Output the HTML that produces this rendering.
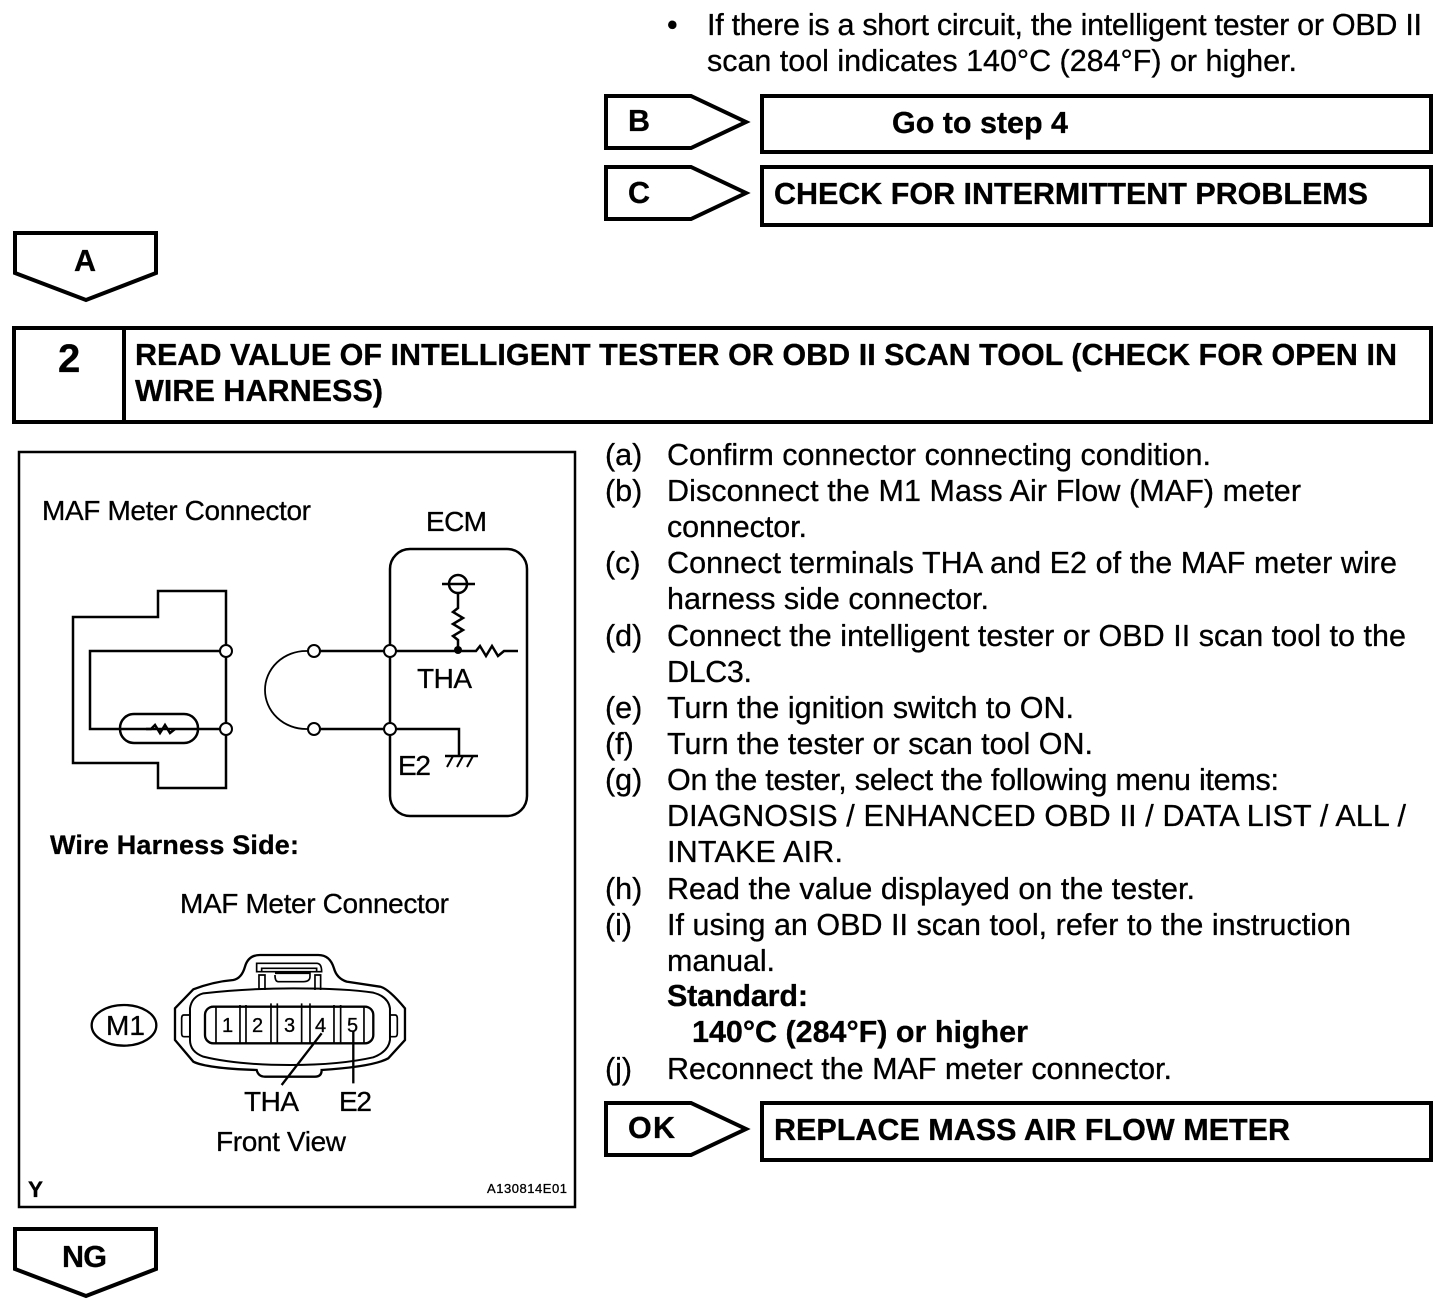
<!DOCTYPE html>
<html><head><meta charset="utf-8"><style>
html,body{margin:0;padding:0;background:#fff}
svg{display:block}
text{font-family:"Liberation Sans",sans-serif;fill:#000;stroke:#000;stroke-width:.3px}
.t{font-size:30.5px}
.b{font-size:30.5px;font-weight:bold}
.d{font-size:28px}
</style></head><body>
<svg width="1456" height="1316" viewBox="0 0 1456 1316" xmlns="http://www.w3.org/2000/svg">
<rect width="1456" height="1316" fill="#fff"/>
<text class="t" x="667" y="35">•</text>
<text class="t" x="707" y="35" textLength="715" lengthAdjust="spacing">If there is a short circuit, the intelligent tester or OBD II</text>
<text class="t" x="707" y="71" textLength="590" lengthAdjust="spacing">scan tool indicates 140°C (284°F) or higher.</text>

<g fill="none" stroke="#000" stroke-width="4">
<polygon points="606,96 691,96 746,122 691,148 606,148"/>
<rect x="762" y="96" width="669" height="56"/>
<polygon points="606,167 691,167 746,193 691,219 606,219"/>
<rect x="762" y="167" width="669" height="58"/>
<polygon points="15,233 156,233 156,273 86,300 15,273"/>
<rect x="14" y="328" width="1417" height="94"/>
<line x1="124" y1="328" x2="124" y2="422"/>
<polygon points="606,1103 691,1103 746,1129 691,1155 606,1155"/>
<rect x="762" y="1103" width="669" height="57"/>
<polygon points="15,1229 156,1229 156,1269 86,1296 15,1269"/>
</g>
<text class="b" x="628" y="131" textLength="22" lengthAdjust="spacingAndGlyphs">B</text>
<text class="b" x="892" y="133" textLength="176" lengthAdjust="spacing">Go to step 4</text>
<text class="b" x="628" y="203" textLength="22" lengthAdjust="spacingAndGlyphs">C</text>
<text class="b" x="774" y="204" textLength="594" lengthAdjust="spacing">CHECK FOR INTERMITTENT PROBLEMS</text>
<text class="b" x="74" y="271">A</text>
<text class="b" x="58" y="372" style="font-size:40px">2</text>
<text class="b" x="135" y="365" textLength="1262" lengthAdjust="spacing">READ VALUE OF INTELLIGENT TESTER OR OBD II SCAN TOOL (CHECK FOR OPEN IN</text>
<text class="b" x="135" y="401" textLength="248" lengthAdjust="spacing">WIRE HARNESS)</text>
<text class="b" x="628" y="1138" textLength="47" lengthAdjust="spacing">OK</text>
<text class="b" x="774" y="1140" textLength="516" lengthAdjust="spacing">REPLACE MASS AIR FLOW METER</text>
<text class="b" x="62" y="1267" textLength="45" lengthAdjust="spacing">NG</text>

<g class="t">
<text x="605" y="465">(a)</text><text x="667" y="465" textLength="544" lengthAdjust="spacing">Confirm connector connecting condition.</text>
<text x="605" y="501">(b)</text><text x="667" y="501" textLength="634" lengthAdjust="spacing">Disconnect the M1 Mass Air Flow (MAF) meter</text>
<text x="667" y="537" textLength="140" lengthAdjust="spacing">connector.</text>
<text x="605" y="573">(c)</text><text x="667" y="573" textLength="730" lengthAdjust="spacing">Connect terminals THA and E2 of the MAF meter wire</text>
<text x="667" y="609" textLength="322" lengthAdjust="spacing">harness side connector.</text>
<text x="605" y="646">(d)</text><text x="667" y="646" textLength="739" lengthAdjust="spacing">Connect the intelligent tester or OBD II scan tool to the</text>
<text x="667" y="682" textLength="85" lengthAdjust="spacing">DLC3.</text>
<text x="605" y="718">(e)</text><text x="667" y="718" textLength="407" lengthAdjust="spacing">Turn the ignition switch to ON.</text>
<text x="605" y="754">(f)</text><text x="667" y="754" textLength="426" lengthAdjust="spacing">Turn the tester or scan tool ON.</text>
<text x="605" y="790">(g)</text><text x="667" y="790" textLength="612" lengthAdjust="spacing">On the tester, select the following menu items:</text>
<text x="667" y="826" textLength="739" lengthAdjust="spacing">DIAGNOSIS / ENHANCED OBD II / DATA LIST / ALL /</text>
<text x="667" y="862" textLength="176" lengthAdjust="spacing">INTAKE AIR.</text>
<text x="605" y="899">(h)</text><text x="667" y="899" textLength="528" lengthAdjust="spacing">Read the value displayed on the tester.</text>
<text x="605" y="935">(i)</text><text x="667" y="935" textLength="684" lengthAdjust="spacing">If using an OBD II scan tool, refer to the instruction</text>
<text x="667" y="971" textLength="108" lengthAdjust="spacing">manual.</text>
<text x="605" y="1079">(j)</text><text x="667" y="1079" textLength="505" lengthAdjust="spacing">Reconnect the MAF meter connector.</text>
</g>
<text class="b" x="667" y="1006" textLength="141" lengthAdjust="spacing">Standard:</text>
<text class="b" x="692" y="1042" textLength="336" lengthAdjust="spacing">140°C (284°F) or higher</text>

<rect x="19" y="452" width="556" height="755" fill="none" stroke="#000" stroke-width="2.5"/>
<text class="d" x="42" y="520" textLength="269" lengthAdjust="spacing">MAF Meter Connector</text>
<text class="d" x="426" y="531" textLength="61" lengthAdjust="spacing">ECM</text>
<g fill="none" stroke="#000" stroke-width="2.5">
<polyline points="226,651 226,591 158,591 158,617 73,617 73,763 158,763 158,788 226,788 226,651"/>
<polyline points="226,651 90,651 90,729 226,729"/>
<rect x="120" y="714" width="78" height="29" rx="14"/>
<rect x="390" y="549" width="137" height="267" rx="20"/>
<polyline points="314,651 472,651 476,651 480,646 486,656 492,646 498,656 504,651 518,651"/>
<polyline points="314,729 459,729 459,755"/>
<line x1="445" y1="756" x2="478" y2="756"/>
<path d="M453 756l-6 11M463 756l-6 11M473 756l-6 11" stroke-width="2"/>
<path d="M314 651H306A41 39 0 0 0 306 729H314" stroke-width="1.8"/>
<polyline points="458,650 458,640 453,636 463,630 453,624 463,618 453,612 458,608 458,594"/>
<circle cx="458" cy="584" r="9"/>
<line x1="442" y1="584" x2="475" y2="584"/>
<polyline points="146,729 151,729 155,725 160,733 165,725 170,733 175,729"/>
</g>
<g fill="#fff" stroke="#000" stroke-width="2">
<circle cx="226" cy="651" r="6"/><circle cx="226" cy="729" r="6"/>
<circle cx="314" cy="651" r="6"/><circle cx="314" cy="729" r="6"/>
<circle cx="390" cy="651" r="6"/><circle cx="390" cy="729" r="6"/>
</g>
<circle cx="458" cy="650" r="4" fill="#000"/>
<text class="d" x="417" y="688" textLength="55" lengthAdjust="spacing">THA</text>
<text class="d" x="398" y="775" textLength="33" lengthAdjust="spacing">E2</text>

<text class="b" x="50" y="854" style="font-size:27px" textLength="249" lengthAdjust="spacing">Wire Harness Side:</text>
<text class="d" x="180" y="913" textLength="269" lengthAdjust="spacing">MAF Meter Connector</text>

<g transform="translate(80,940) scale(0.3333)" fill="none" stroke="#000" stroke-width="7">
<path d="M285 205L340 148Q400 125 460 120Q485 115 495 80Q505 45 540 45H715Q750 45 762 85Q770 115 800 125L900 140Q925 145 975 205V300L925 355Q880 380 725 390Q725 410 705 410H555Q535 410 530 390Q380 385 340 365L285 300Z"/>
<path d="M330 205Q335 170 370 160Q500 145 640 145Q800 145 880 158Q925 170 930 205V300Q925 335 880 352Q780 375 630 375Q470 375 370 350Q330 335 330 300Z" stroke-width="6"/>
<rect x="375" y="200" width="505" height="110" rx="25"/>
<path d="M330 225H312Q305 225 305 235V280Q305 290 312 290H330M930 225H945Q952 225 952 235V280Q952 290 945 290H930" stroke-width="5"/>
<path d="M408 200V310M480 195V310M498 195V310M573 190V310M592 190V310M665 190V310M690 190V310M762 195V310M782 195V310M852 200V310" stroke-width="5"/>
<path d="M530 95V70H710Q725 70 725 95H530ZM545 95V85H710V95M537 150V105H555V150M705 150V105H722V150M585 100H690V110Q690 125 670 125H595Q585 125 585 105" stroke-width="5"/>
<path d="M725 280L605 435M820 275V430" stroke-width="7"/>
<ellipse cx="132" cy="256" rx="97" ry="61" stroke-width="7"/>
</g>
<g>
<text x="222" y="1032" style="font-size:20px">1</text>
<text x="252" y="1032" style="font-size:20px">2</text>
<text x="284" y="1032" style="font-size:20px">3</text>
<text x="315" y="1032" style="font-size:20px">4</text>
<text x="347" y="1032" style="font-size:20px">5</text>
</g>
<text class="d" x="106" y="1035" textLength="39" lengthAdjust="spacing">M1</text>
<text class="d" x="244" y="1111" textLength="55" lengthAdjust="spacing">THA</text>
<text class="d" x="339" y="1111" textLength="33" lengthAdjust="spacing">E2</text>
<text class="d" x="216" y="1151" textLength="130" lengthAdjust="spacing">Front View</text>
<text x="28" y="1197" style="font-size:22px;font-weight:bold" textLength="15" lengthAdjust="spacingAndGlyphs">Y</text>
<text x="487" y="1193" style="font-size:13px" textLength="80" lengthAdjust="spacing">A130814E01</text>
</svg>
</body></html>
